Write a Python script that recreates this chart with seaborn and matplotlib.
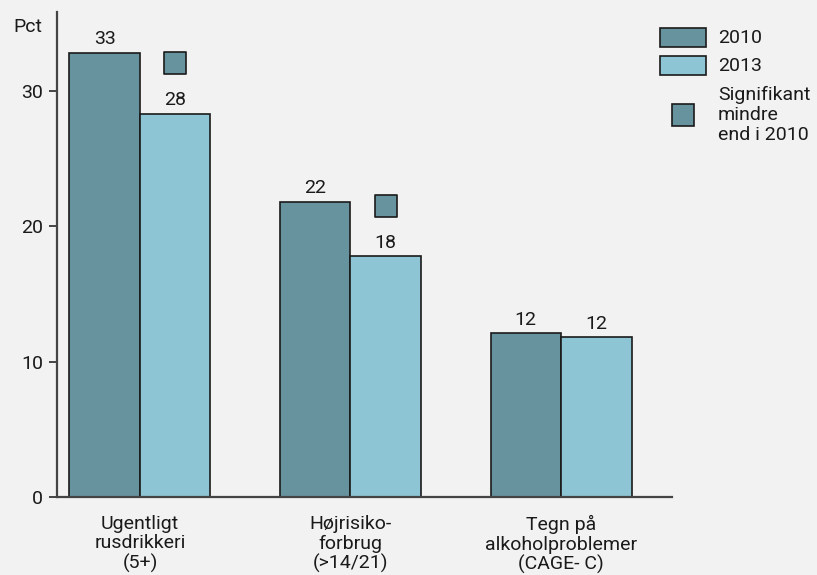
import matplotlib
matplotlib.use("Agg")
import matplotlib.pyplot as plt
import seaborn as sns
import pandas as pd
from matplotlib.patches import Rectangle

categories = ["Ugentligt\nrusdrikkeri\n(5+)", "Højrisiko-\nforbrug\n(>14/21)", "Tegn på\nalkoholproblemer\n(CAGE- C)"]
years = ["2010", "2013"]
values_2010 = [32.8, 21.8, 12.1]
values_2013 = [28.3, 17.8, 11.8]
labels_2010 = ["33", "22", "12"]
labels_2013 = ["28", "18", "12"]
sig_marker_y = [32.0, 21.5, None]  # marker level for "significantly lower than 2010"
yticks = [0, 10, 20, 30]

BG = "#f2f2f2"
C2010 = "#67939f"
C2013 = "#8ec5d4"
TXT = "#1a1a1a"
FS = 14

sns.set_theme(style="white")
plt.rcParams["font.family"] = ["Roboto", "DejaVu Sans"]

df = pd.DataFrame({
    "kategori": categories * 2,
    "år": [years[0]] * 3 + [years[1]] * 3,
    "pct": values_2010 + values_2013,
})

fig = plt.figure(figsize=(8.17, 5.75), dpi=100, facecolor=BG)
ax = fig.add_axes([57 / 817, 1 - 497 / 575, (672 - 57) / 817, (497 - 12) / 575])
ax.set_facecolor(BG)

sns.barplot(data=df, x="kategori", y="pct", hue="år", hue_order=years,
            palette=[C2010, C2013], width=0.67, gap=0, dodge=True,
            edgecolor="#1a1a1a", linewidth=1.2, saturation=1, ax=ax, legend=False)

for cont, labs in zip(ax.containers, [labels_2010, labels_2013]):
    ax.bar_label(cont, labels=labs, padding=3, fontsize=FS, color=TXT)

# significance markers above 2013 bars
bars13 = ax.containers[1]
for bar, my in zip(bars13, sig_marker_y):
    if my is None:
        continue
    xc = bar.get_x() + bar.get_width() / 2
    ax.scatter([xc], [my], marker="s", s=250, color=C2010, edgecolor="#1a1a1a",
               linewidth=1.2, zorder=5)

ax.set_ylim(0, 35.8)
ax.set_xlim(-0.394, 2.527)
ax.set_yticks(yticks)
ax.set_xlabel("")
ax.set_ylabel("")
for s in ["top", "right"]:
    ax.spines[s].set_visible(False)
ax.spines["left"].set_color("#444444")
ax.spines["bottom"].set_color("#444444")
ax.spines["left"].set_linewidth(1.6)
ax.spines["bottom"].set_linewidth(1.6)
ax.tick_params(axis="y", which="both", left=True, length=6, width=1.4, color="#444444",
               labelsize=FS, labelcolor=TXT, pad=4)
ax.tick_params(axis="x", length=0, pad=13, labelsize=FS, labelcolor=TXT)
for lab in ax.get_xticklabels():
    lab.set_linespacing(1.1)
    lab.set_ha("center")

fig.text(13 / 817, 1 - 27 / 575, "Pct", ha="left", va="center", fontsize=FS, color=TXT)

# legend
def fig_rect(x0, y0, w, h, color):
    fig.patches.append(Rectangle((x0 / 817, 1 - (y0 + h) / 575), w / 817, h / 575,
                                 transform=fig.transFigure, facecolor=color,
                                 edgecolor="#1a1a1a", linewidth=1.2))

fig_rect(660, 28, 46, 19, C2010)
fig_rect(660, 56, 46, 19, C2013)
fig_rect(672, 104, 22, 22, C2010)
fig.text(718 / 817, 1 - 38 / 575, "2010", ha="left", va="center", fontsize=FS, color=TXT)
fig.text(718 / 817, 1 - 66 / 575, "2013", ha="left", va="center", fontsize=FS, color=TXT)
fig.text(718 / 817, 1 - 115 / 575, "Signifikant\nmindre\nend i 2010", ha="left", va="center",
         fontsize=FS, color=TXT, linespacing=1.15)

fig.savefig("out.png", dpi=100, facecolor=BG)
